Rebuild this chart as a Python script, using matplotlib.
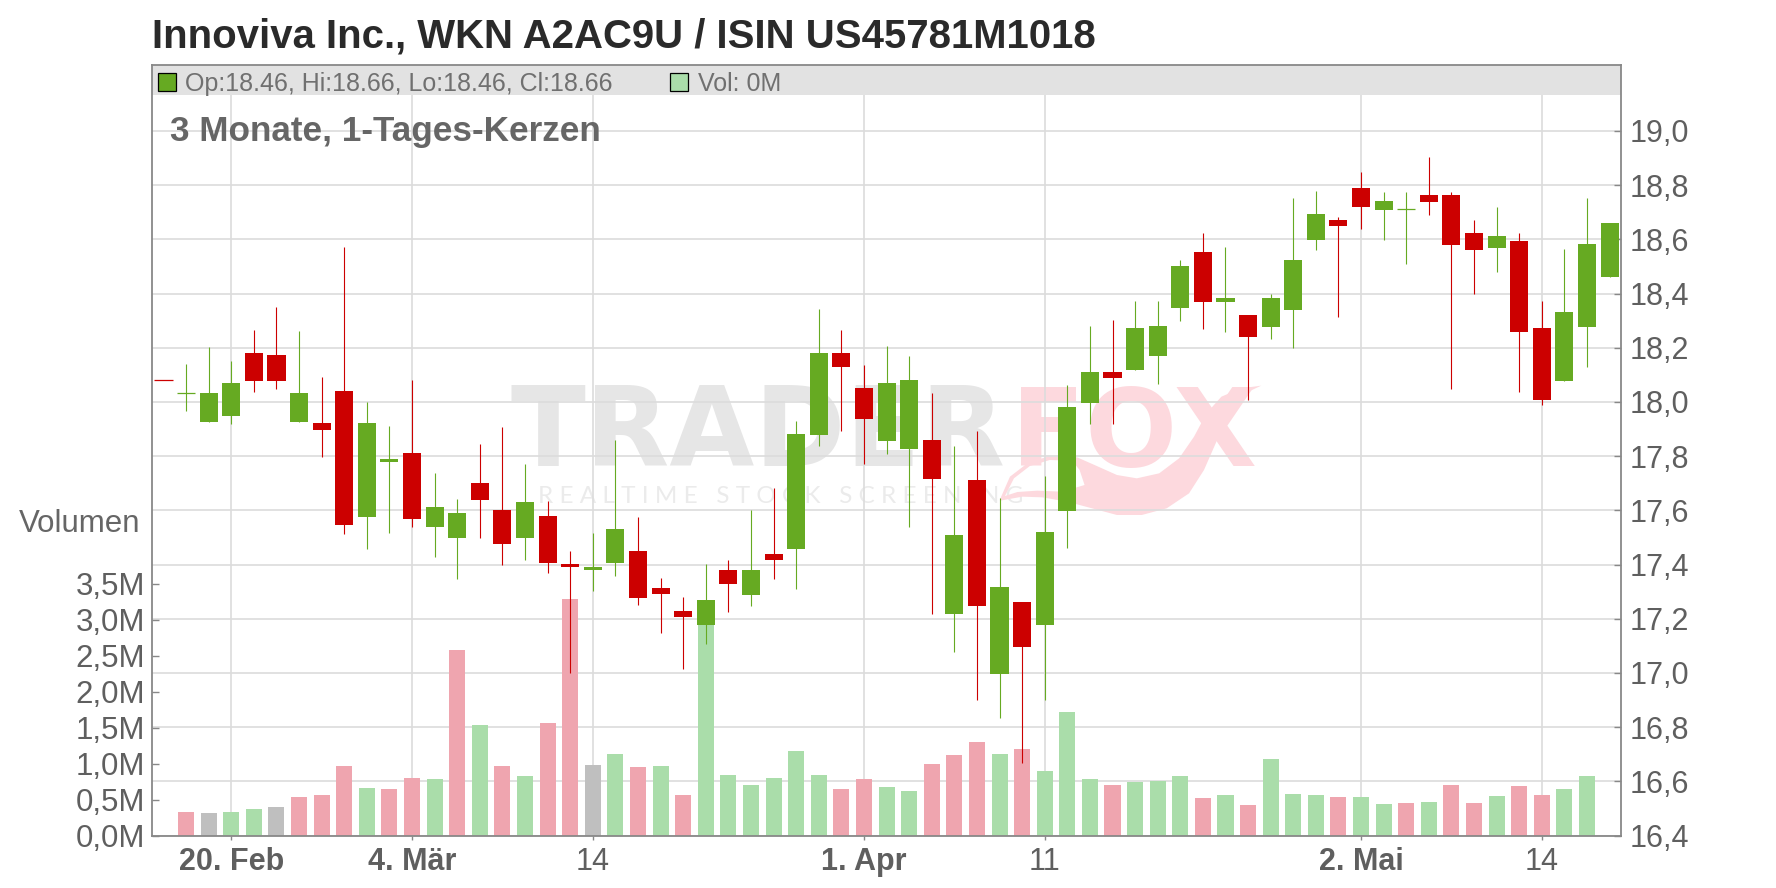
import numpy as np
import matplotlib
matplotlib.use('Agg')
import matplotlib.pyplot as plt
from matplotlib.patches import PathPatch, Rectangle
from matplotlib.path import Path
from matplotlib.transforms import Affine2D

plt.rcParams['font.family'] = ['Liberation Sans', 'DejaVu Sans']

# daily candles, oldest first
opens = [18.081, 18.032, 17.926, 17.948, 18.181, 18.173, 17.926, 17.922, 18.04, 17.575,
         17.778, 17.812, 17.538, 17.499, 17.701, 17.602, 17.499, 17.58, 17.403, 17.378,
         17.407, 17.451, 17.312, 17.23, 17.177, 17.38, 17.288, 17.44, 17.457, 17.877,
         18.179, 18.05, 17.855, 17.826, 17.859, 17.218, 17.711, 16.997, 17.263, 17.177,
         17.597, 17.996, 18.11, 18.118, 18.17, 18.347, 18.553, 18.369, 18.32, 18.276,
         18.339, 18.596, 18.67, 18.791, 18.707, 18.709, 18.762, 18.762, 18.622, 18.567,
         18.593, 18.272, 18.077, 18.276, 18.46]
closes = [18.08, 18.033, 18.033, 18.07, 18.077, 18.077, 18.033, 17.896, 17.546, 17.922,
          17.79, 17.568, 17.612, 17.591, 17.639, 17.477, 17.631, 17.407, 17.389, 17.392,
          17.532, 17.278, 17.29, 17.207, 17.27, 17.329, 17.38, 17.417, 17.881, 18.179,
          18.127, 17.936, 18.069, 18.08, 17.715, 17.508, 17.247, 17.317, 17.097, 17.519,
          17.98, 18.11, 18.088, 18.273, 18.28, 18.502, 18.369, 18.383, 18.239, 18.383,
          18.523, 18.692, 18.648, 18.718, 18.74, 18.71, 18.736, 18.578, 18.56, 18.611,
          18.258, 18.007, 18.331, 18.582, 18.66]
highs = [18.081, 18.14, 18.203, 18.151, 18.265, 18.35, 18.262, 18.092, 18.572, 18.0,
         17.911, 18.082, 17.738, 17.642, 17.845, 17.907, 17.771, 17.635, 17.451, 17.517,
         17.859, 17.576, 17.352, 17.28, 17.402, 17.417, 17.6, 17.682, 17.928, 18.341,
         18.264, 18.138, 18.208, 18.171, 18.032, 17.837, 17.892, 17.646, 17.263, 17.727,
         18.062, 18.28, 18.302, 18.372, 18.372, 18.524, 18.623, 18.572, 18.32, 18.398,
         18.751, 18.78, 18.681, 18.85, 18.773, 18.773, 18.902, 18.773, 18.67, 18.721,
         18.622, 18.372, 18.563, 18.751, 18.66]
lows = [18.08, 17.967, 17.926, 17.919, 18.037, 18.048, 17.926, 17.797, 17.514, 17.457,
        17.517, 17.539, 17.429, 17.348, 17.499, 17.4, 17.418, 17.367, 17.0, 17.304,
        17.359, 17.249, 17.149, 17.016, 17.108, 17.225, 17.247, 17.347, 17.31, 17.837,
        17.892, 17.771, 17.807, 17.539, 17.218, 17.078, 16.899, 16.835, 16.666, 16.899,
        17.462, 17.919, 17.919, 18.118, 18.066, 18.299, 18.269, 18.258, 18.007, 18.232,
        18.199, 18.56, 18.313, 18.637, 18.596, 18.508, 18.688, 18.048, 18.398, 18.479,
        18.037, 17.989, 18.077, 18.129, 18.46]

# volume in millions, first bar sits under the second candle
volumes = [0.324, 0.31, 0.324, 0.366, 0.394, 0.532, 0.56, 0.963, 0.657, 0.644,
           0.796, 0.782, 2.574, 1.532, 0.963, 0.824, 1.56, 3.28, 0.977, 1.138,
           0.946, 0.962, 0.556, 3.05, 0.837, 0.696, 0.795, 1.169, 0.837, 0.639,
           0.78, 0.67, 0.613, 0.988, 1.112, 1.294, 1.138, 1.195, 0.889, 1.72,
           0.78, 0.696, 0.738, 0.754, 0.824, 0.519, 0.56, 0.421, 1.06, 0.574,
           0.56, 0.532, 0.532, 0.435, 0.449, 0.463, 0.699, 0.449, 0.546, 0.685,
           0.56, 0.644, 0.824]
volume_kinds = list('rnggnrrrgrrgrgrgrrn'
                    'grgrggggggrrggrrrgrgggrgggrgrggg'
                    'rggrgrrgrrgg')

price_ticks = [16.4, 16.6, 16.8, 17.0, 17.2, 17.4, 17.6, 17.8, 18.0, 18.2, 18.4, 18.6, 18.8, 19.0]
volume_ticks = [0.0, 0.5, 1.0, 1.5, 2.0, 2.5, 3.0, 3.5]
date_ticks = [3, 11, 19, 31, 39, 53, 61]
date_labels = ['20. Feb', '4. Mär', '14', '1. Apr', '11', '2. Mai', '14']
date_bold = [True, True, False, True, False, True, False]

GREEN = '#66aa22'
RED = '#cc0000'
VOL_COLORS = {'r': '#efa5af', 'g': '#aaddaa', 'n': '#bfbfbf'}
TEXT = '#5f5f5f'
GRID = '#dcdcdc'
FRAME = '#888888'
W, H = 1776, 888

# frame in image pixels
LEFT, RIGHT, TOP, BOTTOM = 152.2, 1620.9, 65.0, 835.5
rect = [LEFT / W, 1 - BOTTOM / H, (RIGHT - LEFT) / W, (BOTTOM - TOP) / H]
PRICE_PX = 271.0
VOL_PX = 72.0
price_lim = (16.4, 16.4 + (BOTTOM - TOP) / PRICE_PX)
vol_lim = (0, (BOTTOM - TOP) / VOL_PX)
x_lim = (-0.5, 64.5)

fig = plt.figure(figsize=(W / 100, H / 100), dpi=100, facecolor='white')
ax_back = fig.add_axes(rect, zorder=0)
ax_vol = fig.add_axes(rect, zorder=1)
ax = fig.add_axes(rect, zorder=2)
ax_vol.patch.set_visible(False)
ax.patch.set_visible(False)

for a in (ax_back, ax_vol, ax):
    a.set_xlim(*x_lim)
ax_back.set_ylim(*price_lim)
ax_vol.set_ylim(*vol_lim)
ax.set_ylim(*price_lim)

# grid and watermark go in the back
ax_back.set_xticks(date_ticks)
ax_back.set_yticks(price_ticks)
ax_back.grid(True, color=GRID, lw=1.2, zorder=2)
ax_back.tick_params(left=False, bottom=False, labelleft=False, labelbottom=False)
ax_back.set_axisbelow(False)
for s in ax_back.spines.values():
    s.set_visible(False)


def px(x, y):
    return ((x - LEFT) / (RIGHT - LEFT), (BOTTOM - y) / (BOTTOM - TOP))


wm_gray = '#e6e6e6'
wm_pink = '#fdd9de'
ax_back.text(*px(510, 465.5), 'TRADER', transform=ax_back.transAxes, color=wm_gray, fontsize=79,
             fontweight='bold', family='DejaVu Sans', ha='left', va='baseline', zorder=1)
ax_back.text(*px(1011, 465.5), 'FOX', transform=ax_back.transAxes, color=wm_pink, fontsize=78,
             fontweight='bold', family='DejaVu Sans', ha='left', va='baseline', zorder=1)
ax_back.text(*px(538, 503), 'R E A L T I M E   S T O C K   S C R E E N I N G',
             transform=ax_back.transAxes, color='#ebebeb', fontsize=17.5, family='Lato',
             ha='left', va='baseline', zorder=1)

tail_outer = [(1005, 388), (1025, 320), (1060, 280), (1100, 260), (1160, 262), (1195, 285),
              (1240, 315), (1280, 325), (1325, 310), (1365, 265), (1395, 200), (1420, 130),
              (1450, 80), (1490, 55), (1530, 47), (1490, 75), (1465, 120), (1440, 215),
              (1415, 300), (1385, 370), (1340, 415), (1290, 435), (1240, 435), (1190, 415),
              (1140, 395), (1090, 382), (1050, 380), (1005, 392)]
tail_hole = [(1015, 378), (1040, 366), (1080, 362), (1130, 365), (1175, 345), (1165, 300),
             (1150, 272), (1105, 270), (1065, 288), (1033, 325)]
tail_verts = tail_outer + [tail_outer[0]] + tail_hole + [tail_hole[0]]
tail_codes = ([Path.MOVETO] + [Path.LINETO] * (len(tail_outer) - 1) + [Path.CLOSEPOLY]
              + [Path.MOVETO] + [Path.LINETO] * (len(tail_hole) - 1) + [Path.CLOSEPOLY])
crop_to_display = Affine2D().scale(1 / 2.01, 1 / 3).translate(500, 370).scale(1, -1).translate(0, H)
ax_back.add_patch(PathPatch(Path(tail_verts, tail_codes), facecolor=wm_pink, edgecolor='none',
                            transform=crop_to_display, zorder=1))

# volume
vol_x = np.arange(1, len(volumes) + 1)
ax_vol.bar(vol_x, volumes, width=0.71, color=[VOL_COLORS[k] for k in volume_kinds], zorder=3)
ax_vol.set_xticks([])
ax_vol.set_yticks(volume_ticks)
ax_vol.set_yticklabels([f'{v:.1f}M'.replace('.', ',') for v in volume_ticks])
ax_vol.tick_params(axis='y', direction='in', length=5, width=1, color=FRAME, labelsize=22.5,
                   labelcolor=TEXT, pad=5)
for s in ax_vol.spines.values():
    s.set_visible(False)

# candles
opens = np.array(opens)
closes = np.array(closes)
x = np.arange(len(opens))
colors = [GREEN if c > o else RED for o, c in zip(opens, closes)]
ax.vlines(x, lows, highs, colors=colors, lw=0.8, zorder=3)
bottom = np.minimum(opens, closes)
height = np.abs(closes - opens)
thin = height < 0.005
ax.bar(x[~thin], height[~thin], bottom=bottom[~thin], width=0.8,
       color=[c for c, t in zip(colors, thin) if not t], zorder=4)
ax.hlines(closes[thin], x[thin] - 0.4, x[thin] + 0.4,
          colors=[c for c, t in zip(colors, thin) if t], lw=0.9, zorder=4)

ax.yaxis.tick_right()
ax.set_yticks(price_ticks)
ax.set_yticklabels([f'{v:.1f}'.replace('.', ',') for v in price_ticks])
ax.tick_params(axis='y', direction='in', length=5, width=1, color=FRAME, labelsize=22,
               labelcolor=TEXT, pad=6)
ax.set_xticks(date_ticks)
ax.set_xticklabels(date_labels)
ax.tick_params(axis='x', direction='out', length=3, width=1, color=FRAME, labelsize=22,
               labelcolor=TEXT, pad=5)
for label, bold in zip(ax.get_xticklabels(), date_bold):
    if bold:
        label.set_fontweight('bold')
for s in ax.spines.values():
    s.set_color(FRAME)
    s.set_linewidth(1.3)
    s.set_zorder(8)

# header band with the ohlc readout
ax.add_patch(Rectangle((0, (BOTTOM - 95) / (BOTTOM - TOP)), 1, (95 - TOP) / (BOTTOM - TOP),
                       transform=ax.transAxes, facecolor='#e2e2e2', edgecolor='none', zorder=6))
for sx, fc in ((157.5, GREEN), (670.0, '#aaddaa')):
    x0, y0 = px(sx, 91)
    ax.add_patch(Rectangle((x0, y0), 18 / (RIGHT - LEFT), 18 / (BOTTOM - TOP), transform=ax.transAxes,
                           facecolor=fc, edgecolor='black', lw=0.9, zorder=7))
ax.text(*px(185, 81.5), 'Op:18.46, Hi:18.66, Lo:18.46, Cl:18.66', transform=ax.transAxes,
        color='#707070', fontsize=18, va='center_baseline', ha='left', zorder=7)
ax.text(*px(698, 81.5), 'Vol: 0M', transform=ax.transAxes, color='#707070', fontsize=18,
        va='center_baseline', ha='left', zorder=7)
ax.text(*px(170, 128), '3 Monate, 1-Tages-Kerzen', transform=ax.transAxes, color='#666666',
        fontsize=25.3, fontweight='bold', va='center_baseline', ha='left', zorder=7)

fig.text(152 / W, 1 - 33 / H, 'Innoviva Inc., WKN A2AC9U / ISIN US45781M1018', color='#2a2a2a',
         fontsize=28.9, fontweight='bold', va='center_baseline', ha='left')
fig.text(140.5 / W, 1 - 521 / H, 'Volumen', color='#666666', fontsize=22.5, va='center_baseline', ha='right')

fig.savefig('out.png', dpi=100)
